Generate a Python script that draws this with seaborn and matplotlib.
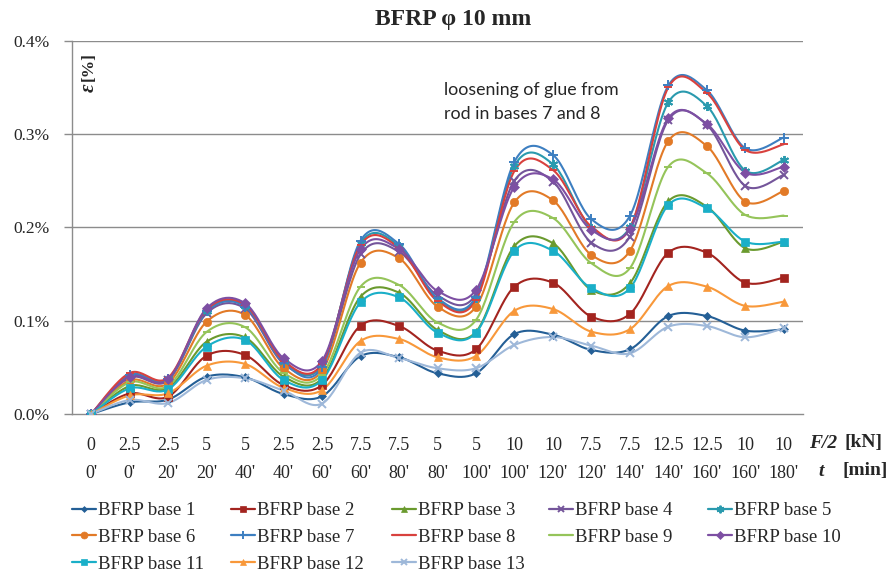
import numpy as np
import pandas as pd
import matplotlib
matplotlib.use("Agg")
import matplotlib.pyplot as plt
from matplotlib.lines import Line2D
import seaborn as sns

# x categories: load F/2 [kN] and time t [min]
force = ["0", "2.5", "2.5", "5", "5", "2.5", "2.5", "7.5", "7.5", "5", "5",
         "10", "10", "7.5", "7.5", "12.5", "12.5", "10", "10"]
time = ["0'", "0'", "20'", "20'", "40'", "40'", "60'", "60'", "80'", "80'", "100'",
        "100'", "120'", "120'", "140'", "140'", "160'", "160'", "180'"]

# strain in %
base1 = [0, 0.0125, 0.0155, 0.040, 0.0393, 0.0214, 0.0190, 0.0620, 0.0608, 0.0436,
         0.0436, 0.0857, 0.0850, 0.0686, 0.0693, 0.1050, 0.1050, 0.0893, 0.0907]
base2 = [0, 0.022, 0.0186, 0.0625, 0.0632, 0.031, 0.031, 0.0947, 0.0943, 0.0679,
         0.0693, 0.1365, 0.1407, 0.1043, 0.1072, 0.1729, 0.1729, 0.1407, 0.1461]
base3 = [0, 0.030, 0.028, 0.0775, 0.082, 0.040, 0.038, 0.1257, 0.130, 0.090,
         0.088, 0.180, 0.183, 0.133, 0.140, 0.228, 0.2222, 0.1776, 0.1847]
base4 = [0, 0.039, 0.036, 0.108, 0.113, 0.054, 0.052, 0.171, 0.174, 0.127,
         0.128, 0.250, 0.249, 0.1836, 0.190, 0.3151, 0.310, 0.2444, 0.2562]
base5 = [0, 0.041, 0.037, 0.110, 0.116, 0.056, 0.053, 0.183, 0.180, 0.122,
         0.124, 0.266, 0.2676, 0.199, 0.200, 0.3340, 0.3300, 0.2608, 0.2722]
base6 = [0, 0.036, 0.033, 0.099, 0.1061, 0.049, 0.0464, 0.1622, 0.1669, 0.115,
         0.115, 0.2269, 0.229, 0.1704, 0.1747, 0.2926, 0.2872, 0.2276, 0.239]
base7 = [0, 0.042, 0.038, 0.110, 0.115, 0.055, 0.050, 0.1858, 0.1822, 0.124,
         0.1257, 0.2704, 0.2776, 0.2087, 0.2122, 0.3520, 0.3470, 0.2848, 0.2962]
base8 = [0, 0.044, 0.039, 0.112, 0.117, 0.057, 0.054, 0.181, 0.178, 0.121,
         0.122, 0.2605, 0.2615, 0.2008, 0.199, 0.3500, 0.3440, 0.283, 0.289]
base9 = [0, 0.034, 0.030, 0.088, 0.093, 0.044, 0.042, 0.1365, 0.1383, 0.098,
         0.1007, 0.206, 0.210, 0.1615, 0.1562, 0.2651, 0.258, 0.2133, 0.2126]
base10 = [0, 0.040, 0.037, 0.1133, 0.1186, 0.0597, 0.0571, 0.1765, 0.1768, 0.1318,
          0.1329, 0.2436, 0.2515, 0.1972, 0.198, 0.3169, 0.3108, 0.2587, 0.2651]
base11 = [0, 0.0275, 0.0265, 0.0722, 0.0793, 0.0364, 0.0364, 0.1197, 0.125, 0.0871,
          0.0871, 0.175, 0.175, 0.1347, 0.1347, 0.224, 0.2205, 0.1847, 0.1847]
base12 = [0, 0.020, 0.0222, 0.0518, 0.0536, 0.028, 0.0257, 0.0782, 0.0804, 0.0608,
          0.0622, 0.1107, 0.1125, 0.0882, 0.0908, 0.1372, 0.1365, 0.1158, 0.1204]
base13 = [0, 0.015, 0.0118, 0.0365, 0.0383, 0.0250, 0.0112, 0.0657, 0.0600, 0.0490,
          0.0490, 0.0740, 0.0825, 0.0732, 0.0650, 0.0936, 0.0943, 0.0822, 0.0918]

names = ["BFRP base %d" % i for i in range(1, 14)]
series = [base1, base2, base3, base4, base5, base6, base7, base8, base9, base10,
          base11, base12, base13]
colors = ["#245F96", "#A3241F", "#6A9A2E", "#74559A", "#2A9AAE", "#E27A27", "#3D7FC1",
          "#D8413E", "#95C45A", "#7D4FA3", "#1AAFC8", "#F8983A", "#9EB8D9"]
markers = ["D", "s", "^", "x", (6, 2, 0), "o", "+", "_", "_", "D", "s", "^", "x"]
msizes = [4, 5.5, 5.5, 5.5, 6.5, 6, 6.5, 5.5, 5.5, 5, 5.5, 5.5, 5.5]


def smooth(vals, n=24):
    # catmull-rom style curve like excel "smoothed line"
    y = np.asarray(vals, float)
    x = np.arange(len(y), dtype=float)
    px = np.concatenate([[x[0]], x, [x[-1]]])
    py = np.concatenate([[y[0]], y, [y[-1]]])
    t = np.linspace(0, 1, n, endpoint=False)
    h00 = 2 * t**3 - 3 * t**2 + 1
    h10 = t**3 - 2 * t**2 + t
    h01 = -2 * t**3 + 3 * t**2
    h11 = t**3 - t**2
    xs, ys = [], []
    for i in range(len(y) - 1):
        mx0 = (px[i + 2] - px[i]) / 2
        mx1 = (px[i + 3] - px[i + 1]) / 2
        my0 = (py[i + 2] - py[i]) / 2
        my1 = (py[i + 3] - py[i + 1]) / 2
        xs.append(h00 * x[i] + h10 * mx0 + h01 * x[i + 1] + h11 * mx1)
        ys.append(h00 * y[i] + h10 * my0 + h01 * y[i + 1] + h11 * my1)
    xs.append([x[-1]])
    ys.append([y[-1]])
    return np.concatenate(xs), np.concatenate(ys)


sns.set_style("white")
plt.rcParams["font.family"] = ["Liberation Serif", "DejaVu Serif"]

fig = plt.figure(figsize=(8.93, 5.73), dpi=100)
ax = fig.add_axes([72 / 893, 1 - 414 / 573, 731 / 893, 373.3 / 573])

grid_c = "#8C8C8C"
for g in [0.1, 0.2, 0.3, 0.4]:
    ax.axhline(g, color=grid_c, lw=1.0, zorder=0)

handles = []
for name, vals, c, m, ms in zip(names, series, colors, markers, msizes):
    xs, ys = smooth(vals)
    sns.lineplot(x=xs, y=ys, color=c, lw=1.5, sort=False, estimator=None, ax=ax)
    mew = 1.4 if m in ("x", "+", "_", (6, 2, 0)) else 0.5
    ax.plot(np.arange(len(vals)), vals, linestyle="none", marker=m, ms=ms,
            color=c, mec=c, mew=mew, zorder=3)
    handles.append(Line2D([0], [0], color=c, lw=1.6, marker=m, ms=ms - 1, mew=mew))

ax.set_xlim(-0.5, len(force) - 0.5)
ax.set_ylim(0, 0.4)
ax.set_yticks([0, 0.1, 0.2, 0.3, 0.4])
ax.set_yticklabels(["%.1f%%" % v for v in [0, 0.1, 0.2, 0.3, 0.4]], fontsize=12.5)
ax.set_xticks(range(len(force)))
ax.set_xticklabels([f + "\n" + t for f, t in zip(force, time)], fontsize=13,
                   linespacing=1.85)
ax.set_xticks(np.arange(-0.5, len(force), 1), minor=True)
ax.tick_params(axis="x", which="major", length=0, pad=16.5)
ax.tick_params(axis="x", which="minor", length=6, color=grid_c, width=1)
ax.tick_params(axis="y", length=6, color=grid_c, width=1, pad=10, left=True)
ax.set_xlabel("")
ax.set_ylabel("")
for s in ["top", "right"]:
    ax.spines[s].set_visible(False)
for s in ["left", "bottom"]:
    ax.spines[s].set_color(grid_c)
    ax.spines[s].set_linewidth(1.0)

# y label inside the plot, reads bottom to top: "ε [%]"
ax.text(17 / 731, 0.97, "[%]", transform=ax.transAxes, rotation=90, va="top",
        ha="center", fontsize=12.5, fontweight="bold")
ax.text(17 / 731, 0.885, "ε", transform=ax.transAxes, rotation=90, va="top",
        ha="center", fontsize=15, fontweight="bold", fontstyle="italic")

fig.text(453 / 893, 1 - 19 / 573, "BFRP φ 10 mm", ha="center", va="center",
         fontsize=17, fontweight="bold")
fig.text(444 / 893, 1 - 82 / 573, "loosening of glue from\nrod in bases 7 and 8",
         ha="left", va="top", fontsize=12.8, family=["Lato", "DejaVu Sans"],
         linespacing=1.62)

# axis captions on the right of the tick rows
fig.text(809 / 893, 1 - 443 / 573, "F/2", ha="left", va="center", fontsize=14,
         fontweight="bold", fontstyle="italic")
fig.text(845 / 893, 1 - 443 / 573, "[kN]", ha="left", va="center", fontsize=14,
         fontweight="bold")
fig.text(818 / 893, 1 - 471 / 573, "t", ha="left", va="center", fontsize=14,
         fontweight="bold", fontstyle="italic")
fig.text(843 / 893, 1 - 471 / 573, "[min]", ha="left", va="center", fontsize=14,
         fontweight="bold")

# legend: 5 columns, filled row by row like the original
col_x = [72, 231, 392, 549, 708]
for k, x0 in enumerate(col_x):
    idx = list(range(k, len(names), 5))
    fig.legend([handles[i] for i in idx], [names[i] for i in idx],
               loc="upper left", bbox_to_anchor=(x0 / 893, 1 - 502 / 573),
               frameon=False, fontsize=13.5, handlelength=1.3, handletextpad=0.1,
               labelspacing=0.52, borderpad=0, borderaxespad=0)

fig.savefig("out.png", dpi=100)
